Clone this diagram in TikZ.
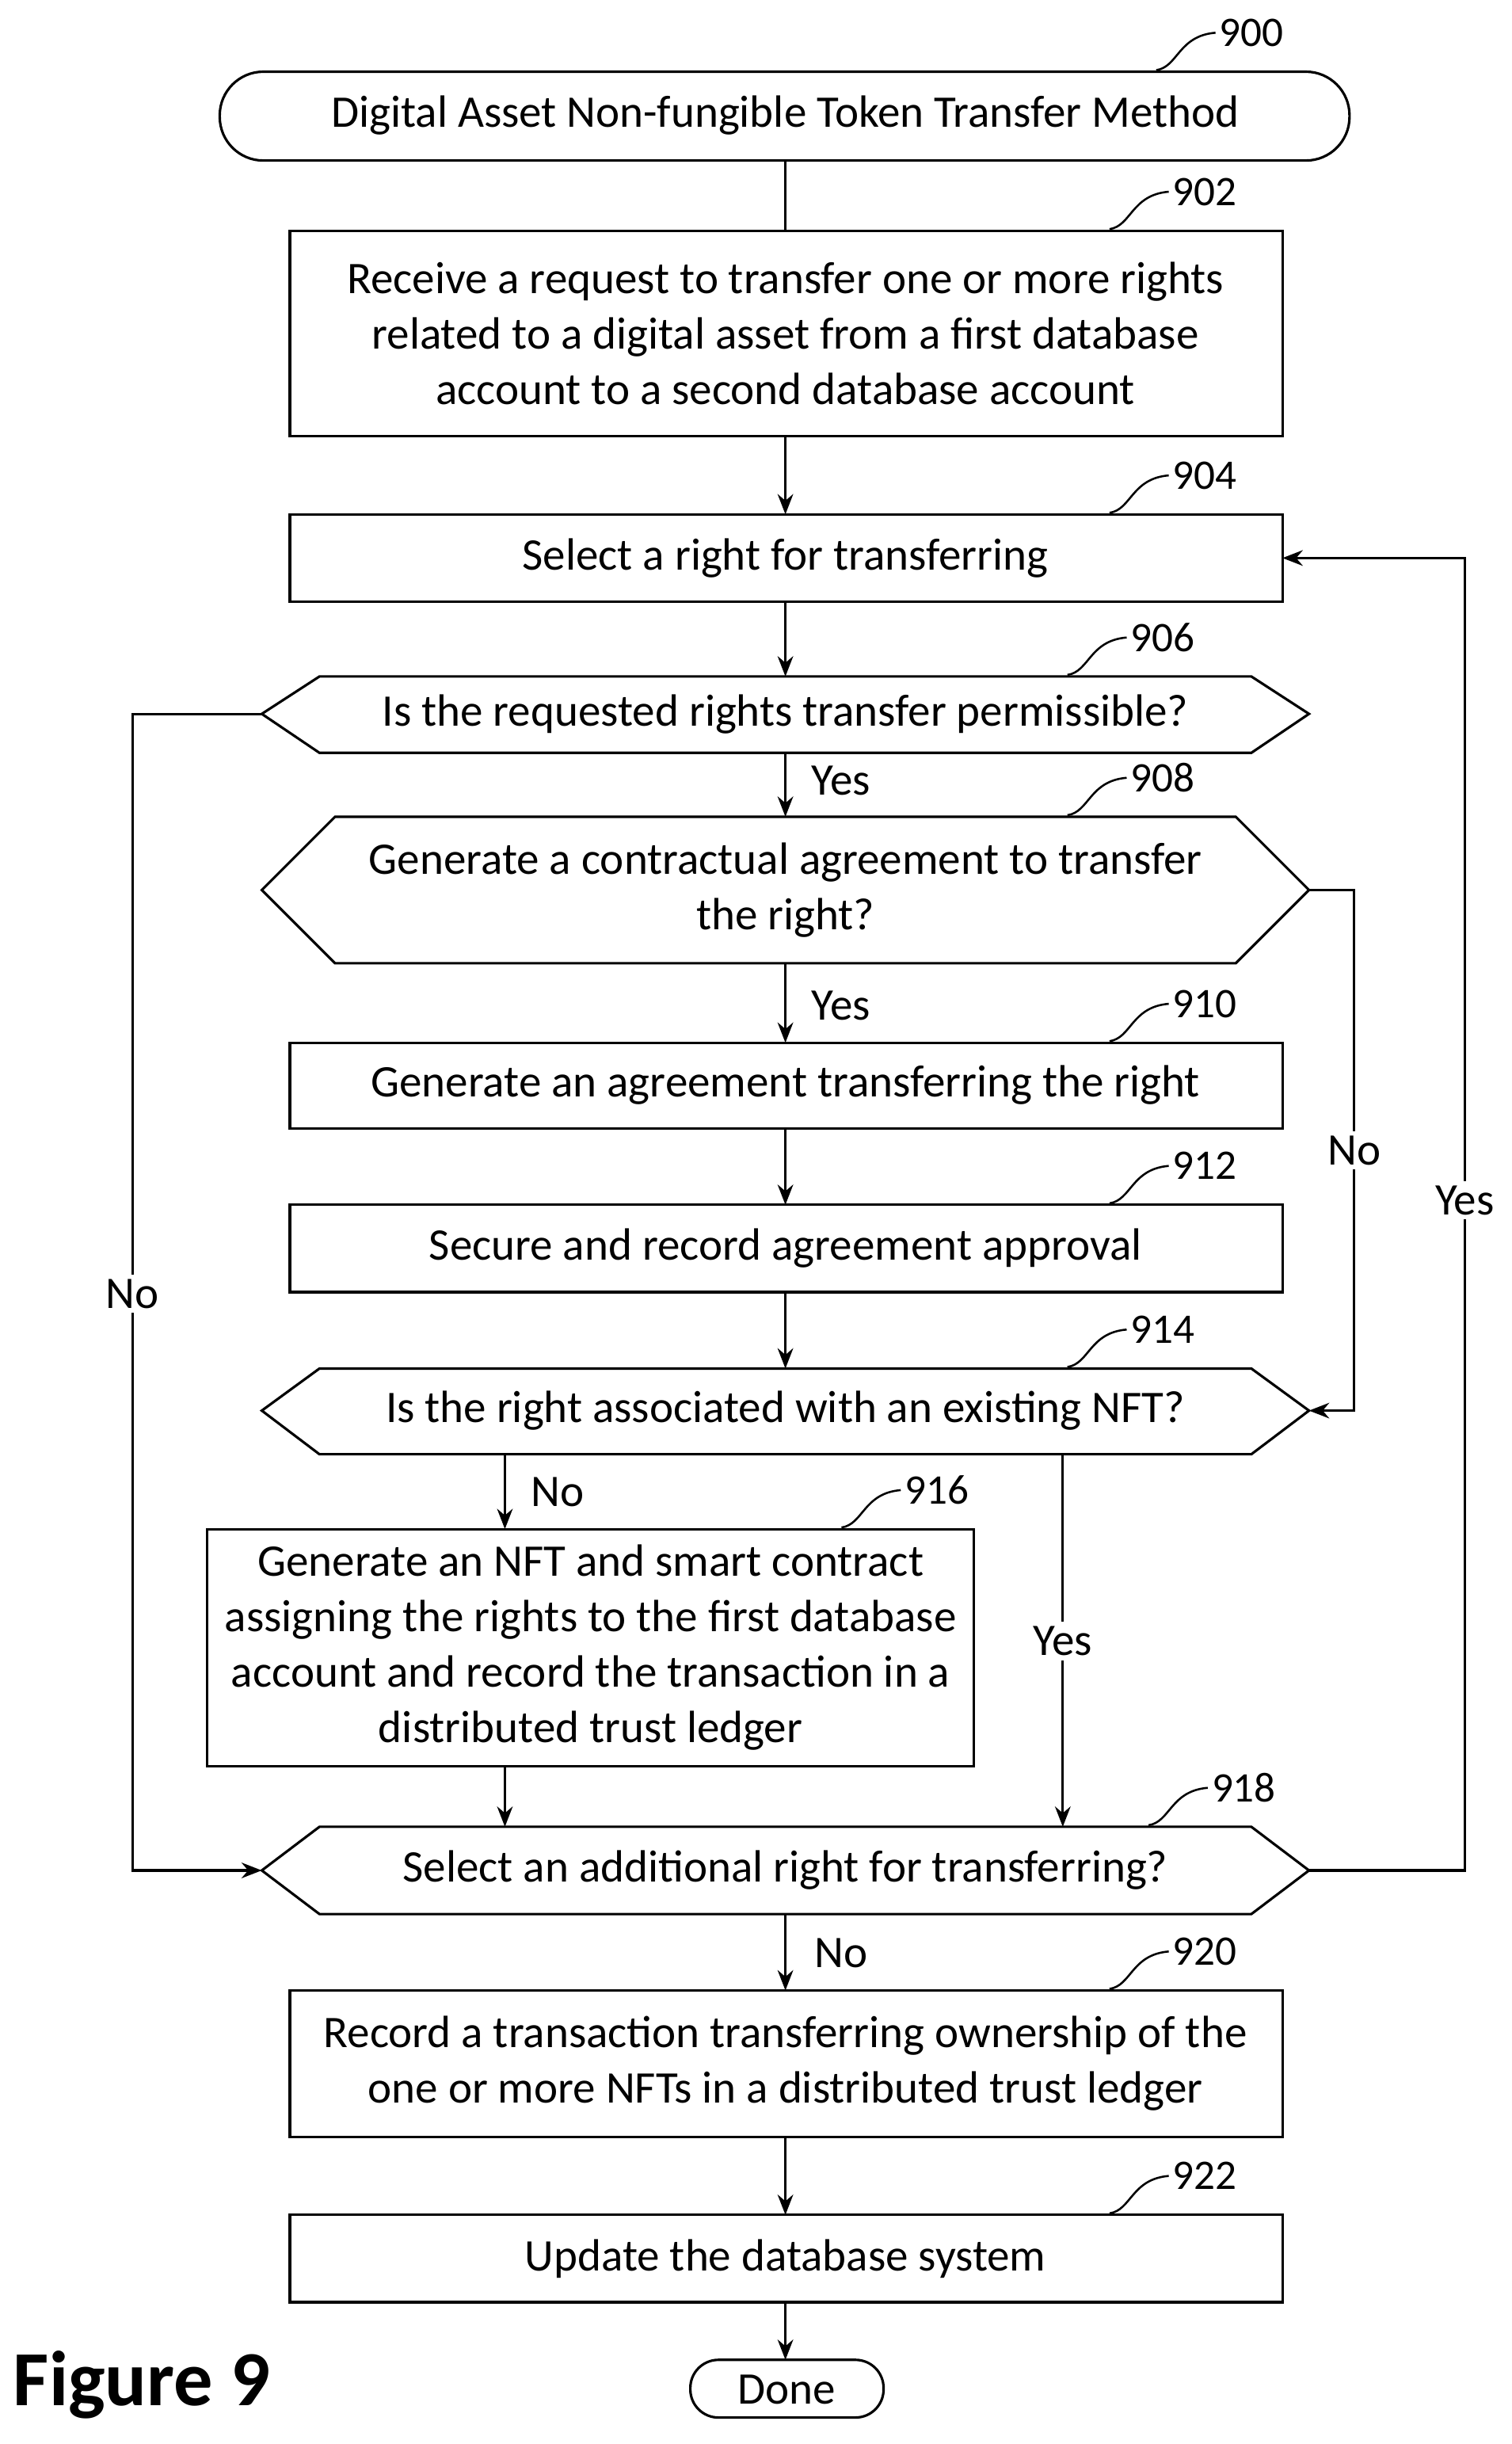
\documentclass[tikz,border=0pt]{standalone}
\usepackage{fontspec}
\setmainfont{Carlito}
\usetikzlibrary{arrows.meta}
\begin{document}
\begin{tikzpicture}[x=1pt,y=-1pt,line width=1.6pt,
  txt/.style={font=\fontsize{29}{35.5}\selectfont,align=center,inner sep=0pt},
  lbl/.style={font=\fontsize{27}{30}\selectfont,inner sep=0pt,anchor=west},
  arr/.style={-{Stealth[length=13pt,width=10pt]}}]
\useasboundingbox (0,0) rectangle (970,1568);
\newcommand{\lead}[3]{\draw[line width=1.3pt] (#1,#2) .. controls (#1+14,#2-2) and (#1+14,#2-22) .. (#1+38,#2-24) node[lbl,anchor=west,xshift=2pt] {#3};}
% 900
\draw[rounded corners=28pt] (141,46) rectangle (866,103);
\node[txt] (n900) at (504,74) {Digital Asset Non-fungible Token Transfer Method};
\lead{742}{45}{900}
% 902
\draw (186,148) rectangle (823,280);
\node[txt] (n902) at (504,214) {Receive a request to transfer one or more rights\\related to a digital asset from a first database\\account to a second database account};
\lead{712}{147}{902}
% 904
\draw (186,330) rectangle (823,386);
\node[txt] (n904) at (504,358) {Select a right for transferring};
\lead{712}{329}{904}
% 906
\draw (168,458) -- (205,434) -- (803,434) -- (840,458) -- (803,483) -- (205,483) -- cycle;
\node[txt] (n906) at (504,458) {Is the requested rights transfer permissible?};
\lead{685}{433}{906}
% 908
\draw (168,571) -- (215,524) -- (793,524) -- (840,571) -- (793,618) -- (215,618) -- cycle;
\node[txt] (n908) at (504,571) {Generate a contractual agreement to transfer\\the right?};
\lead{685}{523}{908}
% 910
\draw (186,669) rectangle (823,724);
\node[txt] (n910) at (504,696) {Generate an agreement transferring the right};
\lead{712}{668}{910}
% 912
\draw (186,773) rectangle (823,829);
\node[txt] (n912) at (504,801) {Secure and record agreement approval};
\lead{712}{772}{912}
% 914
\draw (168,905) -- (205,878) -- (803,878) -- (840,905) -- (803,933) -- (205,933) -- cycle;
\node[txt] (n914) at (504,905) {Is the right associated with an existing NFT?};
\lead{685}{877}{914}
% 916
\draw (133,981) rectangle (625,1133);
\node[txt] (n916) at (379,1057) {Generate an NFT and smart contract\\assigning the rights to the first database\\account and record the transaction in a\\distributed trust ledger};
\lead{540}{980}{916}
% 918
\draw (168,1200) -- (205,1172) -- (803,1172) -- (840,1200) -- (803,1228) -- (205,1228) -- cycle;
\node[txt] (n918) at (504,1200) {Select an additional right for transferring?};
\lead{737}{1171}{918}
% 920
\draw (186,1277) rectangle (823,1371);
\node[txt] (n920) at (504,1324) {Record a transaction transferring ownership of the\\one or more NFTs in a distributed trust ledger};
\lead{712}{1276}{920}
% 922
\draw (186,1421) rectangle (823,1477);
\node[txt] (n922) at (504,1449) {Update the database system};
\lead{712}{1420}{922}
% Done
\draw[rounded corners=18pt] (443,1514) rectangle (567,1551);
\node[txt] (done) at (505,1533) {Done};
\node[font=\fontsize{50}{50}\selectfont\bfseries,inner sep=0pt] (fig) at (91,1530) {Figure 9};
% main arrows
\draw (504,103) -- (504,148);
\draw[arr] (504,280) -- (504,330);
\draw[arr] (504,386) -- (504,434);
\draw[arr] (504,483) -- (504,524);
\draw[arr] (504,618) -- (504,669);
\draw[arr] (504,724) -- (504,773);
\draw[arr] (504,829) -- (504,878);
\draw[arr] (324,933) -- (324,981);
\draw[arr] (682,933) -- (682,1172);
\draw[arr] (324,1133) -- (324,1172);
\draw[arr] (504,1228) -- (504,1277);
\draw[arr] (504,1371) -- (504,1421);
\draw[arr] (504,1477) -- (504,1514);
% loops
\draw[arr] (168,458) -- (85,458) -- (85,1200) -- (168,1200);
\draw[arr] (840,571) -- (869,571) -- (869,905) -- (840,905);
\draw[arr] (840,1200) -- (940,1200) -- (940,358) -- (823,358);
% labels
\node[txt,anchor=west] at (520,501) {Yes};
\node[txt,anchor=west] at (520,645) {Yes};
\node[txt,anchor=west] at (340,957) {No};
\node[txt,fill=white,inner sep=3pt] at (682,1053) {Yes};
\node[txt,anchor=west] at (522,1253) {No};
\node[txt,fill=white,inner sep=3pt] at (85,830) {No};
\node[txt,fill=white,inner sep=3pt] at (869,738) {No};
\node[txt,fill=white,inner sep=3pt] at (940,770) {Yes};
\end{tikzpicture}
\end{document}
